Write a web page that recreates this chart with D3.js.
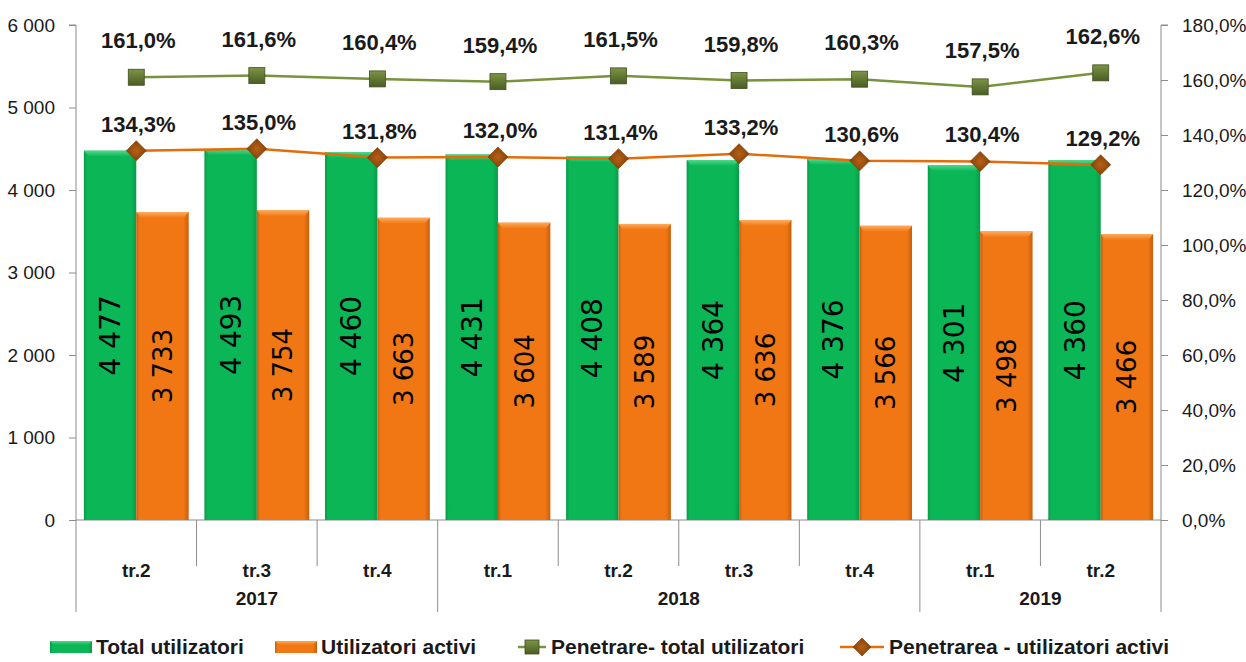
<!DOCTYPE html>
<html lang="ro">
<head>
  <meta charset="UTF-8">
  <title>Utilizatori si penetrare</title>
  <script src="https://d3js.org/d3.v7.min.js"></script>
  <style>
    body { margin: 0; background: #fff; }
    svg text { font-family: "Liberation Sans", Arial, sans-serif; fill: #1a1a1a; }
    .axis path, .axis line { stroke: #8c8c8c; }
    .bar-label { font-family: "DejaVu Sans", Verdana, sans-serif !important; fill: #000; }
  </style>
</head>
<body>
  <svg width="1246" height="662"></svg>

  <script>
    const quarters = ["tr.2", "tr.3", "tr.4", "tr.1", "tr.2", "tr.3", "tr.4", "tr.1", "tr.2"];
    const years = [
      { name: "2017", from: 0, to: 2 },
      { name: "2018", from: 3, to: 6 },
      { name: "2019", from: 7, to: 8 }
    ];
    const totalUsers = [4477, 4493, 4460, 4431, 4408, 4364, 4376, 4301, 4360];
    const activeUsers = [3733, 3754, 3663, 3604, 3589, 3636, 3566, 3498, 3466];
    const penTotal = [161.0, 161.6, 160.4, 159.4, 161.5, 159.8, 160.3, 157.5, 162.6];
    const penActive = [134.3, 135.0, 131.8, 132.0, 131.4, 133.2, 130.6, 130.4, 129.2];
    const leftTicks = [0, 1000, 2000, 3000, 4000, 5000, 6000];
    const rightTicks = [0, 20, 40, 60, 80, 100, 120, 140, 160, 180];

    const svg = d3.select("svg");
    const plot = { left: 76, right: 1161, top: 25, bottom: 520 };

    const fmtNum = d => d3.format(",")(d).replace(/,/g, " ");
    const fmtPct = d => d.toFixed(1).replace(".", ",") + "%";

    const x = d3.scaleBand().domain(d3.range(quarters.length))
      .range([plot.left, plot.right]).padding(0);
    const xs = d3.scaleBand().domain([0, 1]).range([0, x.bandwidth()])
      .paddingInner(0).paddingOuter(0.15);
    const y = d3.scaleLinear().domain([0, 6000]).range([plot.bottom, plot.top]);
    const y2 = d3.scaleLinear().domain([0, 180]).range([plot.bottom, plot.top]);

    // gradients
    const defs = svg.append("defs");
    function barGrad(id, edge, mid, light) {
      const g = defs.append("linearGradient").attr("id", id);
      g.append("stop").attr("offset", "0%").attr("stop-color", edge);
      g.append("stop").attr("offset", "6%").attr("stop-color", mid);
      g.append("stop").attr("offset", "90%").attr("stop-color", mid);
      g.append("stop").attr("offset", "100%").attr("stop-color", edge);
      const t = defs.append("linearGradient").attr("id", id + "Top")
        .attr("x1", 0).attr("y1", 0).attr("x2", 0).attr("y2", 1);
      t.append("stop").attr("offset", "0%").attr("stop-color", light);
      t.append("stop").attr("offset", "100%").attr("stop-color", mid);
    }
    barGrad("gGreen", "#089b48", "#0bb657", "#4fd98a");
    barGrad("gOrange", "#c85f0c", "#f07714", "#ffab5c");

    const mk = defs.append("linearGradient").attr("id", "gSq")
      .attr("x1", 0).attr("y1", 0).attr("x2", 0).attr("y2", 1);
    mk.append("stop").attr("offset", "0%").attr("stop-color", "#7d9445");
    mk.append("stop").attr("offset", "100%").attr("stop-color", "#4a5d24");
    const md = defs.append("radialGradient").attr("id", "gDia");
    md.append("stop").attr("offset", "0%").attr("stop-color", "#b4611a");
    md.append("stop").attr("offset", "100%").attr("stop-color", "#8a4206");

    // axes
    const leftAxis = svg.append("g").attr("class", "axis")
      .attr("transform", `translate(${plot.left},0)`)
      .call(d3.axisLeft(y).tickValues(leftTicks).tickFormat(fmtNum).tickSize(7).tickPadding(14));
    leftAxis.select(".domain").attr("d", `M-7,${plot.top}H0V${plot.bottom + 92}`);

    const rightAxis = svg.append("g").attr("class", "axis")
      .attr("transform", `translate(${plot.right},0)`)
      .call(d3.axisRight(y2).tickValues(rightTicks).tickFormat(d => d.toFixed(1).replace(".", ",") + "%").tickSize(7).tickPadding(14));
    rightAxis.select(".domain").attr("d", `M7,${plot.top}H0V${plot.bottom + 92}`);

    svg.selectAll(".axis text").style("font-size", "19px").attr("fill", "#1a1a1a");

    // category axis
    const cat = svg.append("g").attr("class", "axis");
    cat.append("line").attr("x1", plot.left).attr("x2", plot.right)
      .attr("y1", plot.bottom).attr("y2", plot.bottom);
    const yearStarts = years.map(d => d.from);
    d3.range(1, quarters.length).forEach(i => {
      cat.append("line").attr("x1", x(i)).attr("x2", x(i))
        .attr("y1", plot.bottom).attr("y2", yearStarts.includes(i) ? plot.bottom + 92 : plot.bottom + 46);
    });
    cat.selectAll("text.q").data(quarters).join("text").attr("class", "q")
      .attr("x", (d, i) => x(i) + x.bandwidth() / 2).attr("y", plot.bottom + 57)
      .attr("text-anchor", "middle").style("font-size", "19px").style("font-weight", "bold")
      .text(d => d);
    cat.selectAll("text.yr").data(years).join("text").attr("class", "yr")
      .attr("x", d => (x(d.from) + x(d.to) + x.bandwidth()) / 2).attr("y", plot.bottom + 85)
      .attr("text-anchor", "middle").style("font-size", "19px").style("font-weight", "bold")
      .text(d => d.name);

    // bars
    const series = [
      { values: totalUsers, grad: "gGreen", size: 28 },
      { values: activeUsers, grad: "gOrange", size: 26 }
    ];
    series.forEach((s, si) => {
      const g = svg.append("g");
      s.values.forEach((v, i) => {
        const bx = x(i) + xs(si), bw = xs.bandwidth();
        g.append("rect").attr("x", bx).attr("y", y(v)).attr("width", bw)
          .attr("height", y(0) - y(v)).attr("fill", `url(#${s.grad})`);
        g.append("path")
          .attr("d", `M${bx},${y(v)}H${bx + bw}L${bx + bw - 5},${y(v) + 6}H${bx + 5}Z`)
          .attr("fill", `url(#${s.grad}Top)`);
        const cy = (y(v) + y(0)) / 2;
        g.append("text").attr("class", "bar-label")
          .attr("transform", `translate(${bx + bw / 2},${cy}) rotate(-90)`)
          .attr("text-anchor", "middle").attr("dy", "0.36em")
          .style("font-size", s.size + "px")
          .text(fmtNum(v));
      });
    });

    // lines
    const cx = i => x(i) + x.bandwidth() / 2;
    const line = d3.line().x((d, i) => cx(i)).y(d => y2(d));

    svg.append("path").datum(penTotal).attr("d", line)
      .attr("fill", "none").attr("stroke", "#77933c").attr("stroke-width", 2.5);
    svg.append("path").datum(penActive).attr("d", line)
      .attr("fill", "none").attr("stroke", "#e46c0a").attr("stroke-width", 2.5);

    svg.append("g").selectAll("rect").data(penTotal).join("rect")
      .attr("x", (d, i) => cx(i) - 8).attr("y", d => y2(d) - 8)
      .attr("width", 16).attr("height", 16)
      .attr("fill", "url(#gSq)").attr("stroke", "#3f4f1e").attr("stroke-width", 0.8);
    svg.append("g").selectAll("path").data(penActive).join("path")
      .attr("d", (d, i) => `M${cx(i)},${y2(d) - 10}L${cx(i) + 10},${y2(d)}L${cx(i)},${y2(d) + 10}L${cx(i) - 10},${y2(d)}Z`)
      .attr("fill", "url(#gDia)").attr("stroke", "#7a3a05").attr("stroke-width", 0.6);

    svg.append("g").selectAll("text").data(penTotal).join("text")
      .attr("x", (d, i) => cx(i) + 2).attr("y", d => y2(d) - 29)
      .attr("text-anchor", "middle").style("font-size", "22px").style("font-weight", "bold")
      .text(fmtPct);
    svg.append("g").selectAll("text").data(penActive).join("text")
      .attr("x", (d, i) => cx(i) + 2).attr("y", d => y2(d) - 19)
      .attr("text-anchor", "middle").style("font-size", "22px").style("font-weight", "bold")
      .text(fmtPct);

    // legend
    const lg = svg.append("g").attr("transform", "translate(0,647)");
    const legendItems = [
      { type: "bar", grad: "gGreen", x: 50, label: "Total utilizatori" },
      { type: "bar", grad: "gOrange", x: 275, label: "Utilizatori activi" },
      { type: "sq", x: 518, label: "Penetrare- total utilizatori" },
      { type: "dia", x: 840, label: "Penetrarea - utilizatori activi" }
    ];
    legendItems.forEach(it => {
      const g = lg.append("g").attr("transform", `translate(${it.x},0)`);
      let tx;
      if (it.type === "bar") {
        g.append("rect").attr("x", 0).attr("y", -6).attr("width", 42).attr("height", 12)
          .attr("fill", `url(#${it.grad})`);
        g.append("path").attr("d", "M0,-6H42L38,-2H4Z").attr("fill", `url(#${it.grad}Top)`);
        tx = 46;
      } else if (it.type === "sq") {
        g.append("line").attr("x1", 0).attr("x2", 28).attr("stroke", "#77933c").attr("stroke-width", 2.5);
        g.append("rect").attr("x", 7).attr("y", -7).attr("width", 14).attr("height", 14)
          .attr("fill", "url(#gSq)").attr("stroke", "#3f4f1e").attr("stroke-width", 0.8);
        tx = 33;
      } else {
        g.append("line").attr("x1", 0).attr("x2", 44).attr("stroke", "#e46c0a").attr("stroke-width", 2.5);
        g.append("path").attr("d", "M22,-9L31,0L22,9L13,0Z")
          .attr("fill", "url(#gDia)").attr("stroke", "#7a3a05").attr("stroke-width", 0.6);
        tx = 49;
      }
      g.append("text").attr("x", tx).attr("dy", "0.35em")
        .style("font-size", "21px").style("font-weight", "600").text(it.label);
    });
  </script>
</body>
</html>
